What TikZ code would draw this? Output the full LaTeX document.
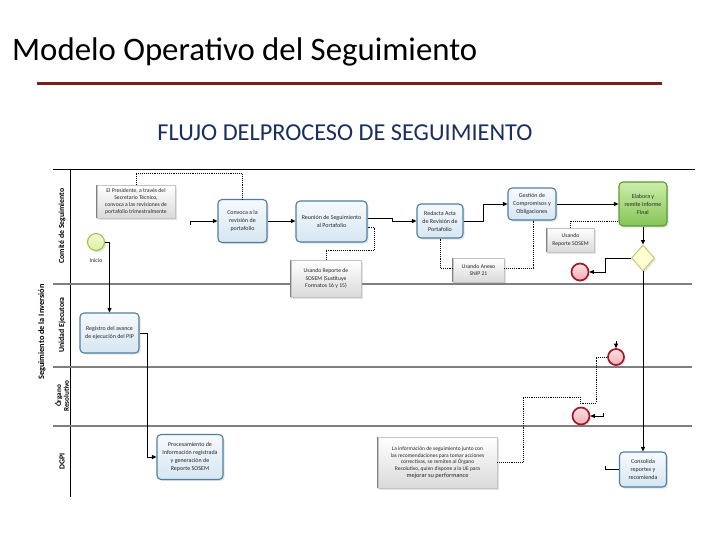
\documentclass[tikz,border=0pt]{standalone}
\usepackage{fontspec}
\setmainfont{Carlito}
\usetikzlibrary{arrows.meta,shapes.geometric,shadows}
\definecolor{titlered}{HTML}{7A1E1E}
\definecolor{navy}{HTML}{1B2F5E}
\definecolor{taskbd}{HTML}{4E7FA0}
\definecolor{taskA}{HTML}{F6FAFD}
\definecolor{taskB}{HTML}{D6E6F2}
\definecolor{greenA}{HTML}{CDEDAA}
\definecolor{greenB}{HTML}{84C556}
\definecolor{greenbd}{HTML}{5E9A35}
\definecolor{startA}{HTML}{F4FAD6}
\definecolor{startB}{HTML}{DCEE9E}
\definecolor{startbd}{HTML}{9CBF3B}
\definecolor{endA}{HTML}{FBE0E3}
\definecolor{endB}{HTML}{F2AEB6}
\definecolor{endbd}{HTML}{9E1B2B}
\definecolor{gwfill}{HTML}{FFFFD2}
\definecolor{gwbd}{HTML}{C4C46A}
\definecolor{annB}{HTML}{DADADA}
\definecolor{annbd}{HTML}{C4C4C4}
\definecolor{annedge}{HTML}{808080}
\definecolor{lanegray}{HTML}{7F7F7F}
\definecolor{txt}{HTML}{262626}
\begin{document}
\begin{tikzpicture}[x=1pt,y=-1pt,
  shadowed/.style={drop shadow={opacity=0.22,shadow xshift=1.6pt,shadow yshift=-1.6pt}},
  task/.style={draw=taskbd, line width=1.1pt, rounded corners=4pt, top color=taskA, bottom color=taskB,
    shadowed, align=center, font=\fontsize{6}{8}\selectfont, text=txt, inner sep=1pt},
  gtask/.style={task, draw=greenbd, top color=greenA, bottom color=greenB},
  annot/.style={draw=annbd, line width=0.5pt, top color=white, bottom color=annB, shadowed,
    align=center, font=\fontsize{5.7}{7.3}\selectfont, text=txt, inner sep=1pt},
  annleft/.style={draw=annedge, line width=0.8pt},
  startev/.style={circle, draw=startbd, line width=1pt, top color=startA, bottom color=startB,
    minimum size=17pt, inner sep=0pt, shadowed},
  endev/.style={circle, draw=endbd, line width=1.7pt, top color=endA, bottom color=endB,
    minimum size=17pt, inner sep=0pt, shadowed},
  gwshape/.style={diamond, draw=gwbd, line width=0.9pt, fill=gwfill, minimum width=23pt,
    minimum height=26pt, inner sep=0pt, shadowed},
  flow/.style={draw=black, line width=0.9pt, -{Triangle[length=4.5pt,width=4pt]}},
  plainflow/.style={draw=black, line width=0.9pt},
  assoc/.style={draw=black, line width=0.8pt, dash pattern=on 0.9pt off 1pt},
  lanelbl/.style={rotate=90, font=\bfseries\fontsize{7.8}{8.4}\selectfont, text=black, align=center, inner sep=0pt},
  laneline/.style={draw=lanegray, line width=1.4pt}
]
\useasboundingbox (0,0) rectangle (720,540);
\fill[white] (0,0) rectangle (720,540);

% titles
\node[anchor=base west, font=\fontsize{32.8}{36}\selectfont, text=black, inner sep=0pt] (title) at (12,61) {Modelo Operativo del Seguimiento};
\draw[titlered, line width=3pt] (37,84) -- (662,84);
\node[anchor=base, font=\fontsize{24.3}{28}\selectfont, text=navy, inner sep=0pt] (subtitle) at (345,141) {FLUJO DELPROCESO DE SEGUIMIENTO};

% pool and lanes
\draw[black, line width=0.8pt] (53,169) -- (695,169);
\draw[black, line width=0.8pt] (70,169) -- (70,497);
\draw[laneline] (53,284) -- (692,284);
\draw[laneline] (53,367) -- (692,367);
\draw[laneline] (53,426) -- (692,426);

\node[lanelbl, font=\bfseries\fontsize{8.3}{9}\selectfont] (poolLbl) at (42,332) {Seguimiento de la Inversión};
\node[lanelbl] (lane1) at (62,226) {Comité de Seguimiento};
\node[lanelbl] (lane2) at (62,325) {Unidad Ejecutora};
\node[lanelbl, font=\bfseries\fontsize{7.2}{7.6}\selectfont] (lane3) at (62,396) {Órgano\\Resolutivo};
\node[lanelbl] (lane4) at (62,461) {DGPI};

% events and gateway
\node[startev] (inicio) at (96,242) {};
\node[font=\fontsize{5.8}{7}\selectfont, text=txt, inner sep=0pt] (inicioLbl) at (96,261) {Inicio};
\node[endev] (end1) at (580,272) {};
\node[endev, minimum size=16pt] (end2) at (616,357) {};
\node[endev] (end3) at (581,416) {};
\node[gwshape] (gw) at (643,258) {};

% tasks
\node[task, minimum width=49pt, minimum height=43pt] (convoca) at (242.5,221) {Convoca a la\\revisión de\\portafolio};
\node[task, minimum width=71pt, minimum height=41pt] (reunion) at (331.5,221.5) {Reunión de Seguimiento\\al Portafolio};
\node[task, minimum width=46pt, minimum height=34pt] (redacta) at (440,221) {Redacta Acta\\de Revisión de\\Portafolio};
\node[task, minimum width=48pt, minimum height=32pt] (gestion) at (532,204) {Gestión de\\Compromisos y\\Obligaciones};
\node[gtask, minimum width=48pt, minimum height=44pt] (elabora) at (643,204) {Elabora y\\remite Informe\\Final};
\node[task, minimum width=59pt, minimum height=40pt] (registro) at (109.5,333) {Registro del avance\\de ejecución del PIP};
\node[task, minimum width=66pt, minimum height=45pt] (proces) at (190,457) {Procesamiento de\\Información registrada\\y generación de\\Reporte SOSEM};
\node[task, minimum width=47pt, minimum height=35pt] (consolida) at (643,469.5) {Consolida\\reportes y\\recomienda};

% annotations
\node[annot, minimum width=78pt, minimum height=33pt] (a1) at (136,201.5) {El Presidente, a través del\\Secretario Técnico,\\convoca a las revisiones de\\portafolio trimestralmente};
\node[annot, minimum width=70pt, minimum height=37pt] (a2) at (326,278.5) {Usando Reporte de\\SOSEM (Sustituye\\Formatos 16 y 15)};
\node[annot, minimum width=51pt, minimum height=24pt] (a3) at (478.5,270) {Usando Anexo\\SNIP 21};
\node[annot, minimum width=47pt, minimum height=24pt] (a4) at (570.5,240) {Usando\\Reporte SOSEM};
\node[annot, minimum width=119pt, minimum height=51pt, font=\fontsize{5.5}{6.8}\selectfont] (a5) at (437.5,462.5) {La información de seguimiento junto con\\las recomendaciones para tomar acciones\\correctivas, se remiten al Órgano\\Resolutivo, quien dispone a la UE para\\{\fontsize{6.3}{6.8}\selectfont mejorar su performance}};
\foreach \a in {a1,a2,a3,a4,a5} \draw[annleft] (\a.north west) -- (\a.south west);

% free ends of stubs
\coordinate (c0) at (190,225);
\coordinate (c1) at (605,466);
\coordinate (c2) at (616,341);
\coordinate (c3) at (603,413);

% sequence flows
\draw[flow] (c0) -- ++(0,-4) -- (convoca.west);
\draw[flow] (convoca.east) -- (convoca.east -| reunion.west);
\draw[flow] ([yshift=3pt]reunion.east) -- ++(25,0) |- (redacta.west);
\draw[flow] (redacta.east) -- ++(20,0) |- (gestion.west);
\draw[flow] (gestion.east) -- (elabora.west);
\draw[flow] (elabora.south) -- (gw.north);
\draw[flow] (gw.west) -- ++(-25.5,0) |- (end1.east);
\draw[flow] (gw.south) -- (consolida.north);
\draw[plainflow] (c1) |- (consolida.west);
\draw[flow] (c2) -- (end2.north);
\draw[flow] (c3) |- (end3.east);
\draw[flow] (inicio.east) -| (registro.north);
\draw[flow] (registro.east) -- ++(8,0) |- (proces.west);

% associations
\draw[assoc] (a1.north) -- ++(0,-11) -| (convoca.north);
\draw[assoc] ([yshift=-5.5pt]reunion.east) -- ++(7,0) -- ++(0,23) -| (a2.north);
\draw[assoc] (redacta.south) |- ([yshift=2pt]a3.west);
\draw[assoc] ([yshift=2pt]a3.east) -| ([xshift=1pt]gestion.south);
\draw[assoc] (a4.north) |- ([yshift=-17pt]elabora.west);
\draw[assoc] (a5.east) -| (523,397) -- (580,397) -- (580,403) -- (596,403) |- (end2.west);
\end{tikzpicture}
\end{document}
